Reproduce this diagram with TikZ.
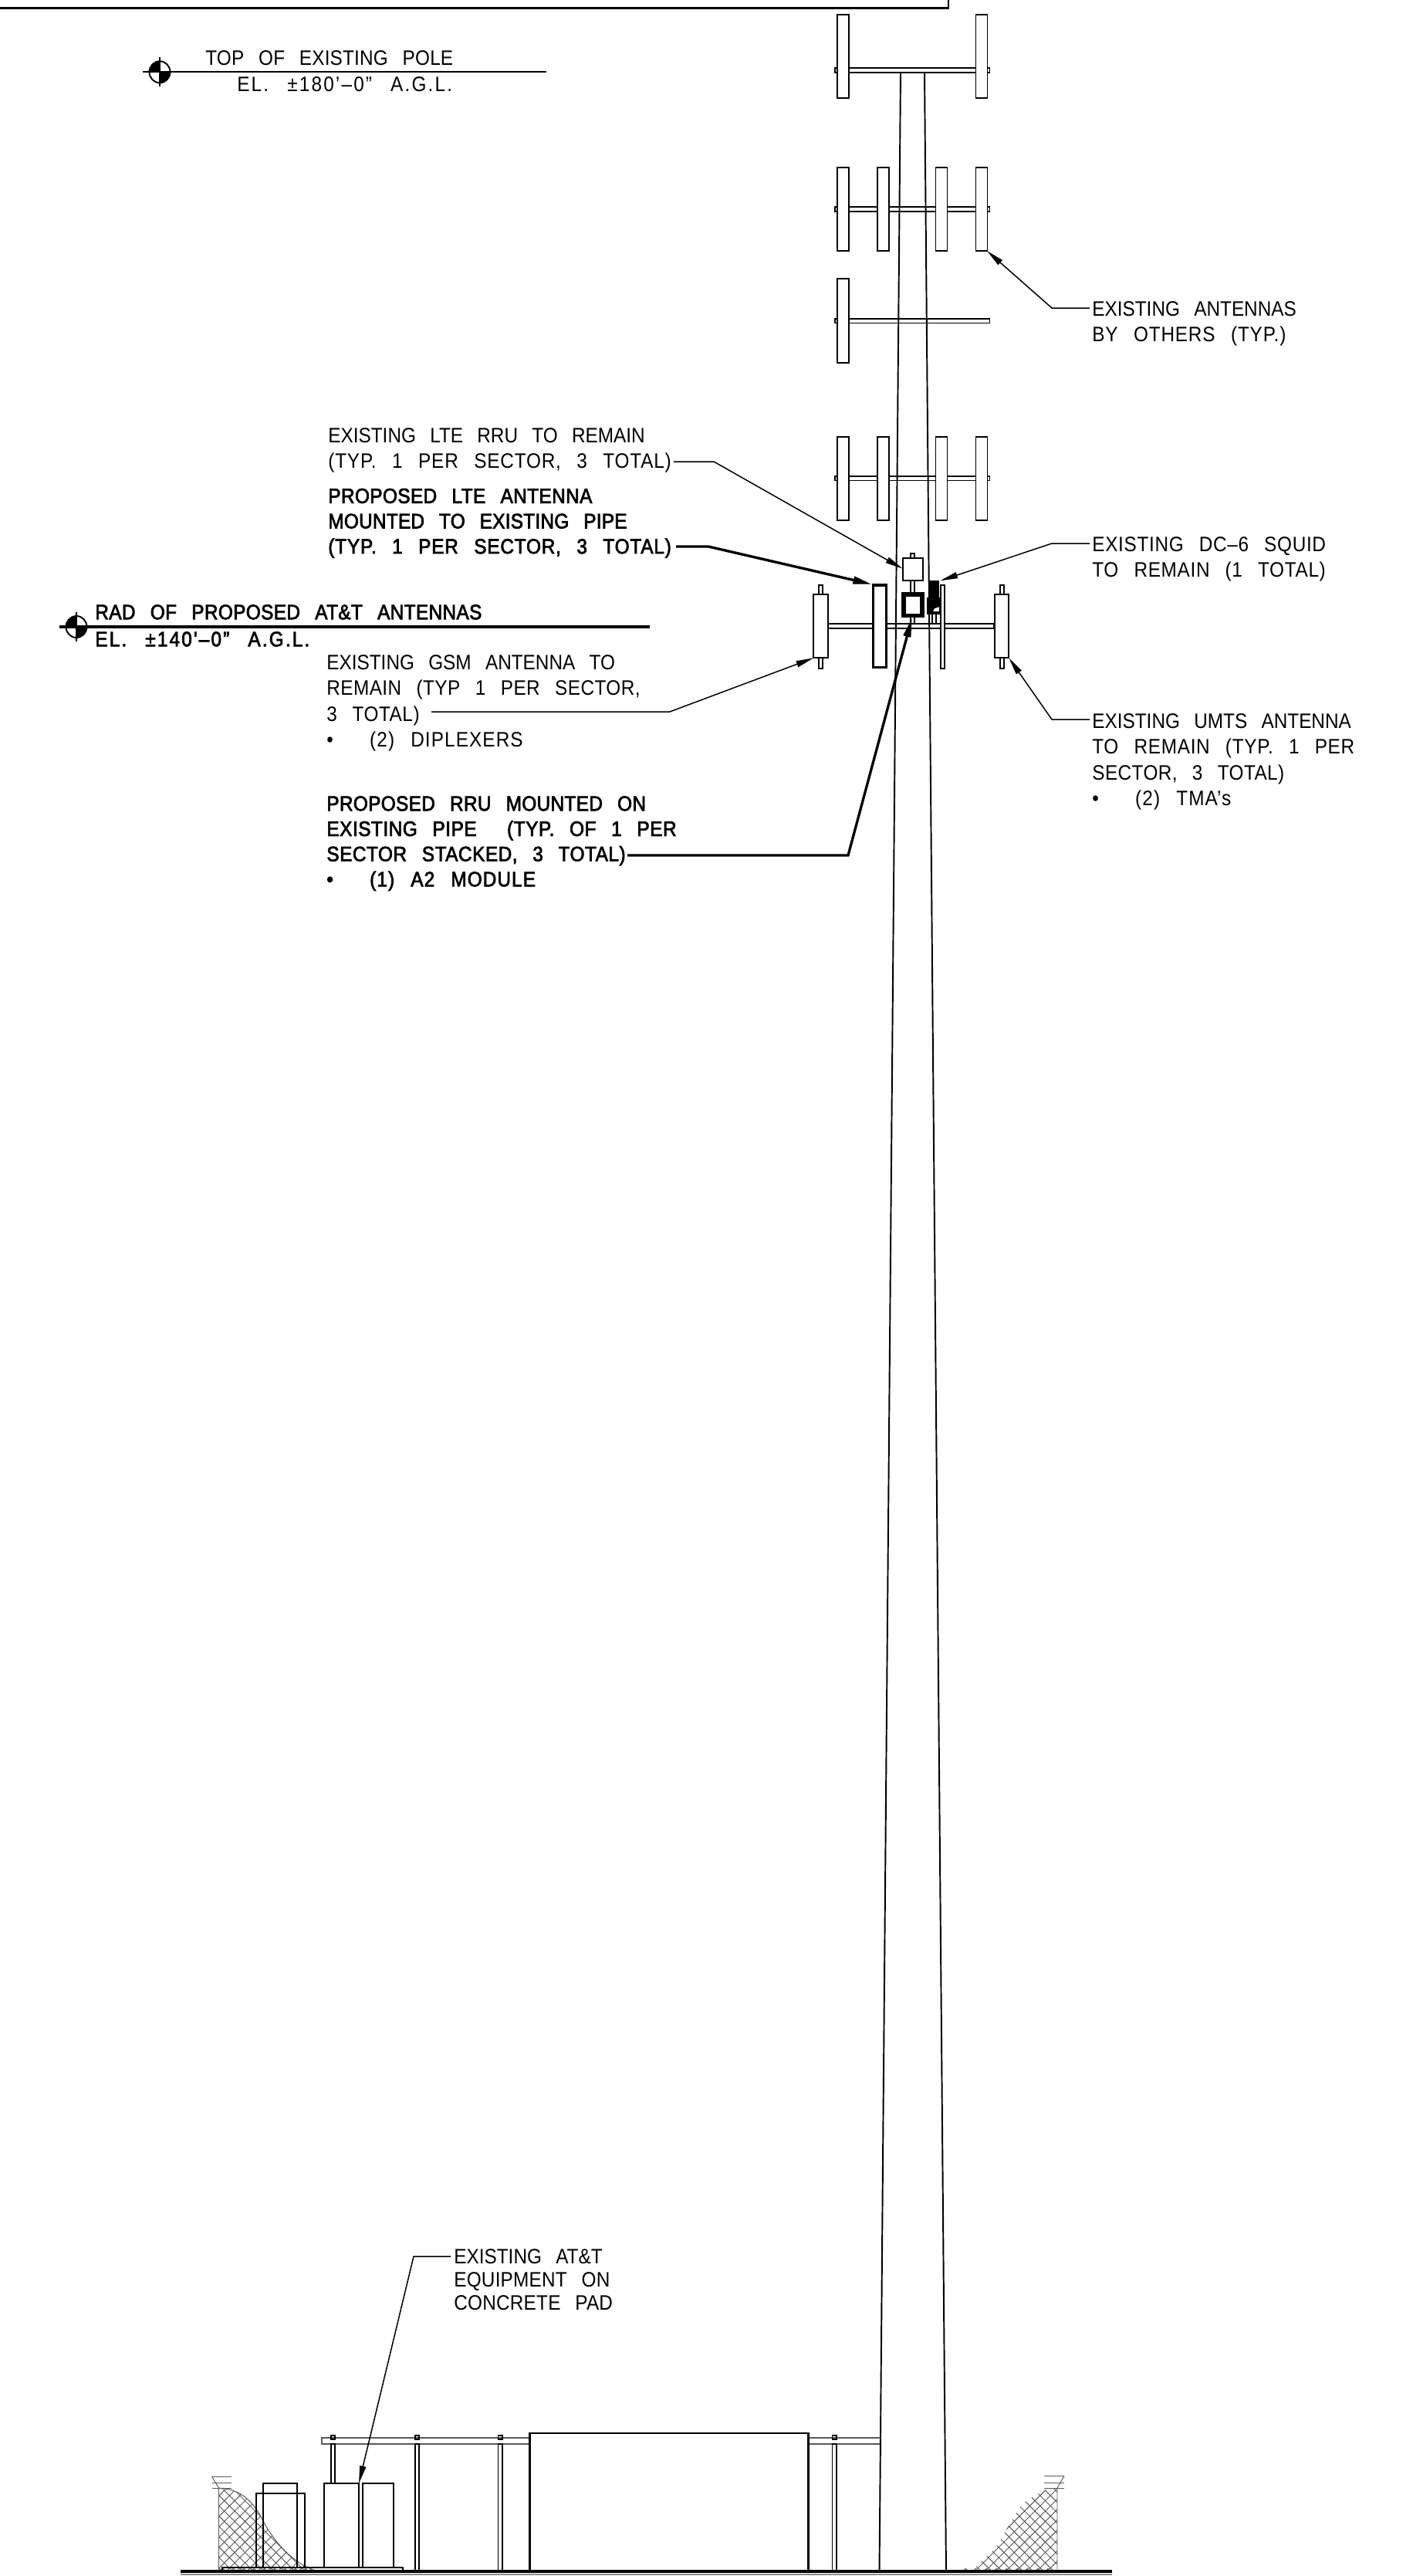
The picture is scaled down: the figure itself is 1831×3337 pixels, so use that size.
\documentclass[tikz,border=0pt]{standalone}
\usepackage{fontspec}
\setmainfont[FakeStretch=0.9,WordSpace=2.7]{Liberation Sans}
\newfontfamily\boldcad[FakeStretch=0.9,WordSpace=2.7,FakeBold=2.6]{Liberation Sans}
\usetikzlibrary{arrows.meta}

\tikzset{
    thinline/.style={line width=1.1pt},
    antenna/.style={draw,fill=white,line width=1.1pt},
    pipe/.style={draw,fill=white,line width=1pt},
    hatchline/.style={line width=0.55pt,color=black!65},
    note/.style={anchor=north west,inner sep=0pt,align=left,font=\fontsize{15.4}{19}\selectfont},
    boldnote/.style={anchor=north west,inner sep=0pt,align=left,font=\fontsize{15.4}{18.6}\selectfont\boldcad},
    leader/.style={line width=0.85pt,-{Triangle[length=13pt,width=4.6pt]}},
    boldleader/.style={line width=1.9pt,-{Triangle[length=14pt,width=5.4pt]}}
}

\newcommand{\levelmark}[2]{
    \draw[line width=1.1pt] (#1,#2) ellipse (13.5 and 14);
    \draw[thinline] (#1,#2-19) -- (#1,#2+19);
    \fill (#1,#2) -- (#1-13.5,#2) arc (180:270:13.5 and 14) -- cycle;
    \fill (#1,#2) -- (#1+13.5,#2) arc (0:90:13.5 and 14) -- cycle;
}
\newcommand{\spaced}[2]{{\addfontfeatures{LetterSpace=#1}#2}}

\begin{document}
\begin{tikzpicture}[x=0.02cm,y=-0.02cm]

        \useasboundingbox (0,0) rectangle (1831,3337);

        % title box corner
        \draw[line width=1.5pt] (0,10.7) -- (1229,10.7) -- (1229,0);

        % pole
        \draw[thinline] (1167,94) -- (1139.5,3331);
        \draw[thinline] (1198,94) -- (1226,3331);
        \draw[thinline] (1167,94) -- (1198,94);

        % pipes
        \draw[pipe] (1082,88) rectangle (1282.5,94);
        \draw[pipe,fill=none] (1082,268) rectangle (1282.5,274);
        \draw[pipe,fill=none] (1082,413) rectangle (1282.5,418.5);
        \draw[pipe,fill=none] (1082,617) rectangle (1282.5,622.5);
        \draw[pipe,fill=none] (1072.7,808.3) rectangle (1288,814);

        % existing antennas
        \foreach \ax in {1085,1264.5} {
            \draw[antenna] (\ax,19) rectangle (\ax+15,127);
        }
        \foreach \ax in {1085,1137,1212.5,1264.5} {
            \draw[antenna] (\ax,217) rectangle (\ax+15,325);
            \draw[antenna] (\ax,565.7) rectangle (\ax+15,673.6);
        }
        \draw[antenna] (1085,361) rectangle (1100,470);

        % umts and gsm antennas
        \foreach \ax in {1061.3,1295.7} {
            \draw[antenna] (\ax,757.7) rectangle (\ax+5,865.7);
        }
        \draw[antenna] (1054.3,770) rectangle (1072.7,852.3);
        \draw[antenna] (1288.7,770) rectangle (1307.3,852.3);
        \draw[antenna] (1219,757.7) rectangle (1224,865.7);

        % proposed lte antenna
        \draw[antenna,line width=2pt] (1131.5,758) rectangle (1148.5,864.5);

        % rru and squid
        \draw[antenna] (1180,716.7) rectangle (1185,808.3);
        \draw[antenna] (1169.7,722.7) rectangle (1195.7,752);
        \draw[antenna,line width=3.4pt] (1170.7,770) rectangle (1195,797.5);
        \draw[antenna] (1208.3,794.3) rectangle (1212.7,808.3);
        \fill (1204.3,752.3) rectangle (1216.7,776.7);
        \draw[antenna,line width=1.8pt] (1203,776) rectangle (1218.5,794);
        \fill (1204,776) -- (1218,776) -- (1218,786) -- (1211,788) -- (1208,794) -- (1204,794) -- cycle;

        % leader ends
        \coordinate (antennaTip) at (1279,325);
        \coordinate (antennaElbow) at (1363,399);
        \coordinate (antennaEnd) at (1412,399);
        \coordinate (squidTip) at (1218.3,752.3);
        \coordinate (squidElbow) at (1363,704);
        \coordinate (squidEnd) at (1412,704);
        \coordinate (umtsTip) at (1307.3,852.3);
        \coordinate (umtsElbow) at (1363,932);
        \coordinate (umtsEnd) at (1412,932);
        \coordinate (rruTip) at (1169.7,736.7);
        \coordinate (rruElbow) at (925,598);
        \coordinate (rruEnd) at (873,598);
        \coordinate (lteTip) at (1130,757);
        \coordinate (lteElbow) at (918,708);
        \coordinate (lteEnd) at (876,708);
        \coordinate (gsmTip) at (1054.3,852.3);
        \coordinate (gsmElbow) at (868,922);
        \coordinate (gsmEnd) at (559,922);
        \coordinate (newrruTip) at (1181.7,800.7);
        \coordinate (newrruElbow) at (1099,1108);
        \coordinate (newrruEnd) at (813,1108);
        \coordinate (padTip) at (465,3217);
        \coordinate (padElbow) at (536,2923);
        \coordinate (padEnd) at (584,2923);

        \draw[leader] (antennaEnd) -- (antennaElbow) -- (antennaTip);
        \draw[leader] (squidEnd) -- (squidElbow) -- (squidTip);
        \draw[leader] (umtsEnd) -- (umtsElbow) -- (umtsTip);
        \draw[leader] (rruEnd) -- (rruElbow) -- (rruTip);
        \draw[boldleader] (lteEnd) -- (lteElbow) -- (lteTip);
        \draw[leader] (gsmEnd) -- (gsmElbow) -- (gsmTip);
        \draw[boldleader] (newrruEnd) -- (newrruElbow) -- (newrruTip);

        % elevation marks
        \draw[thinline] (185,93.3) -- (708,93.3);
        \levelmark{207}{93.3}
        \draw[line width=2.2pt] (77,812) -- (842,812);
        \levelmark{99}{812}

        \node[note] (topPole) at (266,65) {\spaced{0.7}{TOP OF EXISTING POLE}};
        \node[note] (topEl) at (307,99) {\spaced{8}{EL. ±180'–0” A.G.L.}};
        \node[boldnote] (radTitle) at (123,783) {\spaced{1.4}{RAD OF PROPOSED AT\&T ANTENNAS}};
        \node[boldnote] (radEl) at (123,818) {\spaced{8}{EL. ±140'–0” A.G.L.}};

        \node[note] (antennaText) at (1415,390) {EXISTING ANTENNAS\\\spaced{3}{BY OTHERS (TYP.)}};
        \node[note] (rruText) at (425,554) {EXISTING LTE RRU TO REMAIN\\\spaced{3}{(TYP. 1 PER SECTOR, 3 TOTAL)}};
        \node[boldnote] (lteText) at (425,632.5) {\spaced{1.5}{PROPOSED LTE ANTENNA}\\\spaced{1}{MOUNTED TO EXISTING PIPE}\\\spaced{3}{(TYP. 1 PER SECTOR, 3 TOTAL)}};
        \node[note] (squidText) at (1415,695) {\spaced{2.5}{EXISTING DC–6 SQUID}\\\spaced{2.5}{TO REMAIN (1 TOTAL)}};
        \node[note] (umtsText) at (1415,924) {EXISTING UMTS ANTENNA\\\spaced{2.6}{TO REMAIN (TYP. 1 PER}\\\spaced{1.5}{SECTOR, 3 TOTAL)}\\\makebox[31.8pt][l]{•}\spaced{4}{(2) TMA's}};
        \node[note] (gsmText) at (423,848) {EXISTING GSM ANTENNA TO\\\spaced{1.6}{REMAIN (TYP 1 PER SECTOR,}\\\spaced{2}{3 TOTAL)}\\\makebox[31.8pt][l]{•}\spaced{4}{(2) DIPLEXERS}};
        \node[boldnote] (newrruText) at (423,1031) {\spaced{1.3}{PROPOSED RRU MOUNTED ON}\\\spaced{2}{EXISTING PIPE\ \ (TYP. OF 1 PER}\\\spaced{2}{SECTOR STACKED, 3 TOTAL)}\\\makebox[31.8pt][l]{•}\spaced{4}{(1) A2 MODULE}};
        \node[note,font=\fontsize{15.4}{17}\selectfont] (padText) at (588,2913) {EXISTING AT\&T\\\spaced{0.8}{EQUIPMENT ON}\\\spaced{0.8}{CONCRETE PAD}};

        % left embankment
        \begin{scope}
            \clip (283.5,3223) .. controls (310,3224) and (325,3238) .. (337,3258) .. controls (350,3285) and (375,3320) .. (412,3331) -- (283.5,3331) -- cycle;
            \foreach \hx in {0,...,30} {
                \draw[hatchline] (150+\hx*13.4,3340) -- +(130,-130);
                \draw[hatchline] (150+\hx*13.4,3340) -- +(-130,-130);
            }
        \end{scope}
        \draw[hatchline] (283.5,3331) -- (283.5,3223) .. controls (310,3224) and (325,3238) .. (337,3258) .. controls (350,3285) and (375,3320) .. (412,3331);
        \draw[hatchline] (274.5,3208) -- (283.5,3223);
        \foreach \ly in {3208,3216,3223} {
            \draw[hatchline] (275,\ly) -- (300,\ly);
        }

        % right embankment
        \begin{scope}
            \clip (1370,3223) -- (1352,3226) -- (1325,3243) -- (1306,3273) -- (1291,3300) -- (1262,3327) -- (1250,3331) -- (1370,3331) -- cycle;
            \foreach \hx in {0,...,30} {
                \draw[hatchline] (1120+\hx*13.4,3340) -- +(130,-130);
                \draw[hatchline] (1120+\hx*13.4,3340) -- +(-130,-130);
            }
        \end{scope}
        \draw[hatchline] (1370,3331) -- (1370,3223) -- (1379,3207.5);
        \foreach \ly in {3207.5,3216,3223} {
            \draw[hatchline] (1353,\ly) -- (1379,\ly);
        }
        \draw[hatchline] (1220,3330.5) -- (1370,3330.5);
        \foreach \hx in {0,...,8} {
            \draw[hatchline] (289+\hx*13.4,3329) circle (1.6);
            \draw[hatchline] (1251+\hx*13.4,3329) circle (1.6);
        }

        % equipment
        \draw[thinline] (288,3331) -- (288,3325.7) -- (522,3325.7) -- (522,3331);
        \draw[thinline] (332,3325.7) -- (332,3229.7) -- (395,3229.7) -- (395,3325.7);
        \draw[thinline] (341,3325.7) -- (341,3217) -- (385,3217) -- (385,3325.7);
        \draw[thinline] (419.6,3325.7) -- (419.6,3217) -- (465,3217) -- (465,3325.7);
        \draw[thinline] (469.6,3325.7) -- (469.6,3217) -- (510,3217) -- (510,3325.7);

        % fence
        \draw[line width=0.8pt,color=black!65] (686.6,3158) -- (417,3158) -- (417,3166) -- (686.6,3166);
        \draw[line width=0.8pt,color=black!65] (1047.5,3158) -- (1140.5,3158);
        \draw[line width=0.8pt,color=black!65] (1047.5,3166) -- (1140.4,3166);
        \draw[thinline] (429,3217) -- (429,3166) -- (434.4,3166) -- (434.4,3217);
        \foreach \px in {538,645.5,1078.5} {
            \draw[thinline] (\px,3331) -- (\px,3166) -- (\px+5.4,3166) -- (\px+5.4,3331);
        }
        \foreach \px in {429,538,645.5,1078.5} {
            \draw[thinline] (\px,3155) rectangle (\px+5.4,3159.5);
        }

        % shelter
        \draw[line width=1.4pt] (686.6,3331) -- (686.6,3152) -- (1047.5,3152) -- (1047.5,3331);

        \draw[leader] (padEnd) -- (padElbow) -- (padTip);

        % ground
        \draw[line width=2.6pt] (233.5,3331) -- (1441,3331);
        \draw[line width=0.7pt,color=black!45] (233.5,3335) -- (1441,3335);

    \end{tikzpicture}
\end{document}
